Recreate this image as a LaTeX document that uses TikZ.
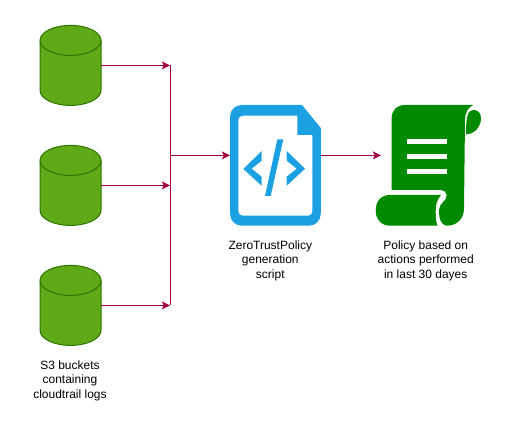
\documentclass[tikz,border=0pt]{standalone}
\usepackage{fontspec}
\setmainfont{Liberation Sans}
\usetikzlibrary{arrows.meta}
\definecolor{cylfill}{HTML}{60A917}
\definecolor{cylline}{HTML}{2D7600}
\definecolor{wire}{HTML}{A50040}
\definecolor{docblue}{HTML}{1BA1E2}
\definecolor{scrollgreen}{HTML}{008A00}
\tikzset{
  x=0.75pt,y=-0.75pt,
  hold/.style={inner sep=0pt,outer sep=0pt},
  wireline/.style={draw=wire,line width=0.75pt},
  wirearrow/.style={wireline,-{Stealth[length=6.2pt,width=6pt,inset=1.6pt]}},
  caption/.style={align=center,font=\fontsize{9}{10.75}\selectfont,text=black,inner sep=0pt},
  cyl/.style={fill=cylfill,draw=cylline,line width=0.75pt},
  pics/dbcyl/.style={code={
    \draw[cyl] (-30.5,-25) -- (-30.5,25) arc[start angle=180,end angle=0,x radius=30.5,y radius=15] -- (30.5,-25)
      arc[start angle=0,end angle=-180,x radius=30.5,y radius=15] -- cycle;
    \draw[cyl,fill=none] (-30.5,-25) arc[start angle=180,end angle=0,x radius=30.5,y radius=15];
  }}
}
\begin{document}
\begin{tikzpicture}
\useasboundingbox (0,0) rectangle (507,427);
% cylinders
\pic at (70.5,65.4) {dbcyl};
\pic at (70.5,185.4) {dbcyl};
\pic at (70.5,305.4) {dbcyl};
\node[hold,minimum width=45.75pt,minimum height=60pt] (c1) at (70.5,65.4) {};
\node[hold,minimum width=45.75pt,minimum height=60pt] (c2) at (70.5,185.4) {};
\node[hold,minimum width=45.75pt,minimum height=60pt] (c3) at (70.5,305.4) {};
% document icon
\node[hold,minimum width=68.25pt,minimum height=90pt] (doc) at (275.5,155.4) {};
\fill[docblue,even odd rule]
  (242,105) -- (302,105) -- (320.8,128) -- (320.8,213.5)
  .. controls (320.8,220.5) and (315.5,225.7) .. (309,225.7) -- (242,225.7)
  .. controls (235,225.7) and (230,220.5) .. (230,213.5) -- (230,117)
  .. controls (230,110) and (235,105) .. (242,105) -- cycle
  (243,115.7) .. controls (240,115.7) and (238.3,117.5) .. (238.3,120) -- (238.3,211)
  .. controls (238.3,214) and (240,215.7) .. (243,215.7) -- (308,215.7)
  .. controls (311,215.7) and (312.3,214) .. (312.3,211) -- (312.3,135) -- (297.3,135) -- (297.3,115.7) -- cycle;
\fill[docblue] (277.3,139.3) -- (283.3,139.3) -- (270.7,196) -- (265,196) -- cycle;
\fill[docblue] (261.7,151) -- (261.7,160.7) -- (251.7,168.7) -- (261.7,176.7) -- (261.7,185.7) -- (243.3,169) -- cycle;
\fill[docblue] (286.7,151) -- (305,168.7) -- (286.7,185.7) -- (286.7,176.7) -- (296.7,168.7) -- (286.7,160.7) -- cycle;
% scroll icon
\node[hold,minimum width=75pt,minimum height=90pt] (scroll) at (431,155.4) {};
\fill[scrollgreen]
  (391.7,190) -- (391.7,118.3) .. controls (391.7,110) and (397,105) .. (405,105)
  -- (473.3,105) .. controls (468,107) and (465,113) .. (465,120)
  -- (464,208) .. controls (464,218) and (458,225.5) .. (446.7,225.7)
  .. controls (441,225) and (439,219) .. (439,210)
  .. controls (439,203) and (447,201) .. (446.7,195)
  .. controls (446.5,192) and (444,190) .. (441,190) -- cycle;
\fill[scrollgreen]
  (390,195) -- (441,195) .. controls (437,200) and (435.7,204) .. (435.7,211)
  .. controls (435.7,217) and (436,222) .. (437.5,225.7) -- (390,225.7)
  .. controls (381,225.7) and (375.7,219) .. (375.7,210.5)
  .. controls (375.7,201) and (381,195) .. (390,195) -- cycle;
\fill[scrollgreen]
  (473.3,110) .. controls (468,110.5) and (466,115) .. (466,134.3)
  .. controls (475,134.3) and (481,126) .. (481,118.3)
  .. controls (481,113) and (478,110) .. (473.3,110) -- cycle;
\fill[white] (407.3,138.7) rectangle (446.7,143.7);
\fill[white] (407.3,153.7) rectangle (446.7,158.7);
\fill[white] (407.3,168.7) rectangle (446.7,173.7);
% connectors
\coordinate (top) at (170,65.4);
\coordinate (mid) at (170,185.4);
\coordinate (bot) at (170,305.4);
\coordinate (tee) at (170,155.4);
\draw[wireline] (top) -- (bot);
\draw[wirearrow] (c1.east) -- (top);
\draw[wirearrow] (c2.east) -- (mid);
\draw[wirearrow] (c3.east) -- (bot);
\draw[wirearrow] (tee) -- (doc.west);
\draw[wirearrow] (doc.east) -- (scroll.west);
% captions
\node[caption] (t1) at (70,380.6) {S3 buckets\\containing\\cloudtrail logs};
\node[caption] (t2) at (270.3,260.6) {ZeroTrustPolicy\\generation\\script};
\node[caption] (t3) at (425.7,260.6) {Policy based on\\actions performed\\in last 30 dayes};
\end{tikzpicture}
\end{document}
